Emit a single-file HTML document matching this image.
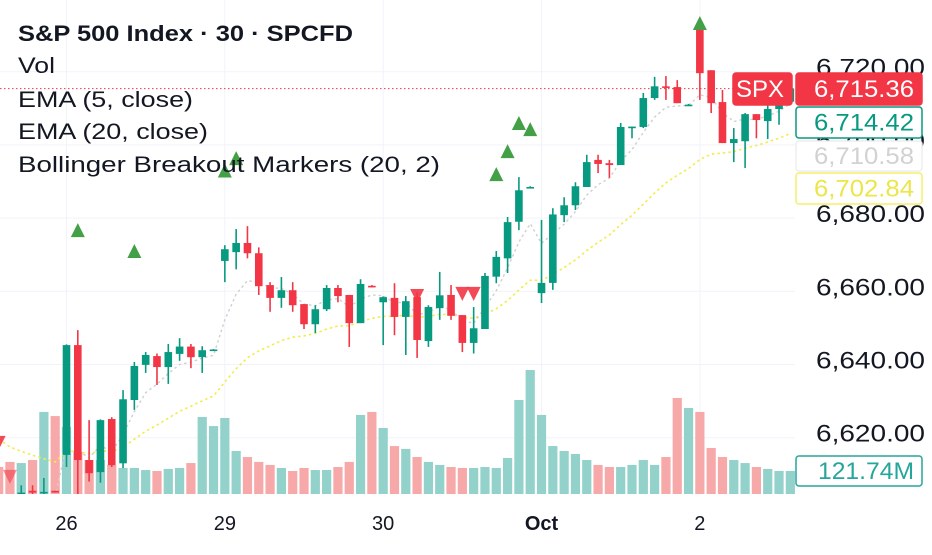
<!DOCTYPE html>
<html><head><meta charset="utf-8">
<style>
html,body{margin:0;padding:0;background:#fff;}
body{width:932px;height:550px;overflow:hidden;font-family:"Liberation Sans",sans-serif;}
svg text{font-family:"Liberation Sans",sans-serif;}
</style></head>
<body>
<svg id="chart" width="932" height="550" viewBox="0 0 932 550" xmlns="http://www.w3.org/2000/svg">
  <g id="grid"></g>
  <g id="vol" clip-path="url(#pane)"></g>
  <defs><clipPath id="pane"><rect x="0" y="0" width="795" height="494"/></clipPath></defs>
  <g id="ema" clip-path="url(#pane)"></g>
  <g id="candles" clip-path="url(#pane)"></g>
  <g id="markers" clip-path="url(#pane)"></g>
  <g id="axis"></g>
  <g id="taxis"></g>
  <g>
    <text x="18" y="41" font-size="22" font-weight="bold" fill="#131722" textLength="335" lengthAdjust="spacingAndGlyphs">S&amp;P 500 Index · 30 · SPCFD</text>
    <text x="18" y="73" font-size="22" fill="#131722" textLength="37" lengthAdjust="spacingAndGlyphs">Vol</text>
    <text x="18" y="107" font-size="22" fill="#131722" textLength="175" lengthAdjust="spacingAndGlyphs">EMA (5, close)</text>
    <text x="18" y="139" font-size="22" fill="#131722" textLength="190" lengthAdjust="spacingAndGlyphs">EMA (20, close)</text>
    <text x="18" y="172" font-size="22" fill="#131722" textLength="422" lengthAdjust="spacingAndGlyphs">Bollinger Breakout Markers (20, 2)</text>
  </g>
</svg>
<script>
const firstIndex = -6;
const opens  = [6603,6598,6604,6605.5,6604.8,6605.5,6615.3,6645.3,6613.9,6610.6,6625.1,6613,6630.3,6639.9,6642.3,6639.3,6642.9,6644.9,6642,6644,6668.3,6670.7,6673.2,6670.4,6661.7,6658.2,6660.3,6656.5,6651,6655.1,6660.9,6659,6651.3,6661.5,6657,6658.2,6653,6658.4,6646.4,6655.4,6659,6653.5,6645.9,6649.7,6664,6669,6679,6688.3,6659.5,6662.3,6680.8,6683.5,6688.5,6695.9,6695,6694.5,6704.6,6704.9,6712.8,6716,6715.8,6710.8,6732,6720.4,6711.7,6700.5,6701,6708.4,6706.5,6709.8,6711.8];
const highs  = [6606,6600,6607,6607,6609,6605.5,6645.5,6649.4,6624.8,6625,6625.6,6633,6640.7,6643.4,6643,6645.6,6647.2,6645.6,6645,6644.2,6672.6,6677,6677.8,6672,6662.5,6663.9,6662.5,6656.5,6656.2,6661.7,6661.7,6659,6663.3,6661.7,6658.6,6662.2,6658.7,6659.8,6656.2,6665.3,6661.7,6653.5,6655.7,6665,6671,6680.3,6691.2,6688.7,6679.5,6682.7,6685.7,6689.8,6697.3,6697.3,6695.9,6706,6705,6714.2,6718.6,6718.8,6717.7,6711.2,6733.3,6720.4,6715,6704.6,6708.7,6708.4,6710.9,6711.8,6716];
const lows   = [6595,6592,6603,6604,6604,6605,6612,6604.4,6608,6607.7,6612,6611.7,6627.6,6637.7,6634.4,6634.7,6641,6639,6637.7,6643.8,6662.5,6666,6669,6659,6654.4,6655.5,6654.4,6649.7,6648.6,6654.6,6657,6644.8,6651.3,6661.1,6645.3,6648,6642.6,6641.8,6644.8,6652.2,6652.2,6643.4,6643,6649.7,6662.2,6665,6676.7,6688.1,6656.8,6660.4,6678.9,6682.2,6688.5,6692.3,6691,6694.5,6701.8,6704.6,6712.3,6712.3,6711.4,6710.6,6712.3,6708.7,6700.5,6695.3,6693.7,6701.8,6701.6,6705.5,6711];
const closes = [6598,6596,6605,6605,6605.2,6605,6645.3,6613.9,6610.3,6624.8,6612.5,6630.5,6639.6,6642.6,6639.3,6643.4,6644.9,6642,6643.9,6644.1,6671.5,6673.2,6670.4,6661.4,6658.2,6660.3,6656.2,6651,6655.1,6660.9,6658.7,6651.3,6662,6661.3,6658.4,6653,6657.3,6646.7,6655.7,6658.9,6653.3,6645.9,6649.9,6664.2,6669.4,6678.9,6687.6,6688.5,6662.3,6681,6683.5,6688.7,6695.3,6694.8,6694.5,6704.9,6705,6712.8,6716,6715.6,6711.4,6711,6719.6,6711.4,6700.5,6701.6,6708.4,6706.8,6709.8,6711.8,6715.36];
const volumes = [143,170,164,180,435,413,355,223,180,180,154,138,138,127,122,133,138,164,408,360,403,228,196,170,154,138,122,138,127,127,143,170,419,435,350,254,239,196,170,154,143,138,138,143,138,191,498,657,419,254,228,212,180,154,143,143,154,180,154,196,509,456,435,244,196,180,164,143,133,122,121.74];
const upMarkers = [[1,6676.7],[6,6671],[14,6693],[15,6696.4],[38,6692],[39,6698.3],[40,6706],[41,6704.3],[56,6733.3]];
const downMarkers = [[-6,6618.6],[-5,6609.3],[31,6658.7],[35,6659.3],[36,6659.3]];
const priceTicks = [6720,6700,6680,6660,6640,6620];
const priceTickLabels = ["6,720.00","6,700.00","6,680.00","6,660.00","6,640.00","6,620.00"];
const dayIndex = [0,14,28,42,56];
const dayLabels = ["26","29","30","Oct","2"];
const ema5Seed = 6605, ema20Seed = 6622;
const lastEma5Label = "6,710.58", lastEma20Label = "6,702.84", otherLabel = "6,714.42", volLabel = "121.74M";

const NS = "http://www.w3.org/2000/svg";
const X = i => 66.5 + i * 11.31;
const Y = p => 71.7 + (6720 - p) * 3.66;
const VY = v => 494 - v / 5.3;
const GREEN = "#089981", RED = "#f23645";
function mk(tag, attrs, parent){ const e=document.createElementNS(NS,tag); for(const k in attrs) e.setAttribute(k,attrs[k]); parent.appendChild(e); return e; }
const grid=document.getElementById('grid'), vol=document.getElementById('vol'), ema=document.getElementById('ema'),
      cg=document.getElementById('candles'), mg=document.getElementById('markers'), ax=document.getElementById('axis'), tx=document.getElementById('taxis');

priceTicks.forEach((p,k)=>{
  const l=mk('line',{x1:0,x2:795,y1:Y(p),y2:Y(p),stroke:'#f0f3fa','stroke-width':1},grid);
  
  
  const t=mk('text',{x:925,y:Y(p)+4,'text-anchor':'end','font-size':24,fill:'#131722',textLength:109,lengthAdjust:'spacingAndGlyphs'},ax);
  t.textContent=priceTickLabels[k];
  
  
});
dayIndex.forEach((d,k)=>{
  const l=mk('line',{x1:X(d),x2:X(d),y1:0,y2:494,stroke:'#f0f3fa','stroke-width':1},grid);
  
  
  const t=mk('text',{x:X(d),y:530,'text-anchor':'middle','font-size':20,fill:'#131722','font-weight':dayLabels[k]==='Oct'?'bold':'normal'},tx);
  t.textContent=dayLabels[k];
  
  
});

volumes.forEach((v,j)=>{
  const i=j+firstIndex, up=closes[j]>=opens[j];
  const r=mk('rect',{x:X(i)-4.6,y:VY(v),width:9.2,height:494-VY(v),fill:up?'#93d1cb':'#f7a8a8'},vol);
  
  
});

let e5=ema5Seed,e20=ema20Seed; const p5=[],p20=[];
closes.forEach((c,j)=>{ e5+= (c-e5)*2/6; e20+=(c-e20)*2/21; p5.push([X(j+firstIndex),Y(e5)]); p20.push([X(j+firstIndex),Y(e20)]); });
const l20=mk('polyline',{points:p20.map(p=>p.join(',')).join(' '),fill:'none',stroke:'#f3ec4c','stroke-width':1.6,'stroke-dasharray':'2.5 3'},ema);


const l5=mk('polyline',{points:p5.map(p=>p.join(',')).join(' '),fill:'none',stroke:'#cfcfcf','stroke-width':1.4,'stroke-dasharray':'2.5 3'},ema);



const last=closes[closes.length-1];
const pl=mk('line',{x1:0,x2:795,y1:Y(last),y2:Y(last),stroke:RED,'stroke-width':1,'stroke-dasharray':'1.5 2.5'},ema);



opens.forEach((o,j)=>{
  const i=j+firstIndex, c=closes[j], col=c>=o?GREEN:RED, x=X(i);
  const g=mk('g',{},cg);
  
  
  mk('line',{x1:x,x2:x,y1:Y(highs[j]),y2:Y(lows[j]),stroke:col,'stroke-width':1.6},g);
  const top=Math.min(Y(o),Y(c)), h=Math.max(1.6,Math.abs(Y(o)-Y(c)));
  mk('rect',{x:x-3.8,y:top,width:7.6,height:h,fill:col},g);
});

upMarkers.forEach(([i,p])=>{
  const x=X(i), y=Y(p);
  const t=mk('polygon',{points:`${x-7},${y+7} ${x+7},${y+7} ${x},${y-7}`,fill:'#43a047'},mg);
  
  
});
downMarkers.forEach(([i,p])=>{
  const x=X(i), y=Y(p);
  const t=mk('polygon',{points:`${x-7},${y-7} ${x+7},${y-7} ${x},${y+7}`,fill:'#f23645','fill-opacity':i===-5?0.55:0.9},mg);
  
  
});

function box(x,y,w,h,fill,stroke,txt,col,name,tl){
  const g=mk('g',{},ax);
  
  
  mk('rect',{x:x,y:y,width:w,height:h,rx:3,fill:fill,stroke:stroke,'stroke-width':1.5},g);
  const t=mk('text',{x:x+w-8,y:y+h/2+8,'text-anchor':'end','font-size':24,fill:col,textLength:tl,lengthAdjust:'spacingAndGlyphs'},g);
  t.textContent=txt;
}
box(796,141,126,30,'#ffffff','#eeeeee',lastEma5Label,'#d2d2d2','ema5-price-label',100);
box(796,173,126,31,'#ffffff','#f5ef6a',lastEma20Label,'#ece64a','ema20-price-label',100);
box(796,107,126,31,'#ffffff',GREEN,otherLabel,GREEN,'green-price-label',100);
box(796,456,126,30,'#ffffff','#26a69a',volLabel,'#26a69a','volume-label',96);
box(733,73,59,32,RED,RED,'SPX','#ffffff','symbol-label',48);
box(796,73,126,32,RED,RED,'6,715.36','#ffffff','last-price-label',100);
</script>
</body></html>
